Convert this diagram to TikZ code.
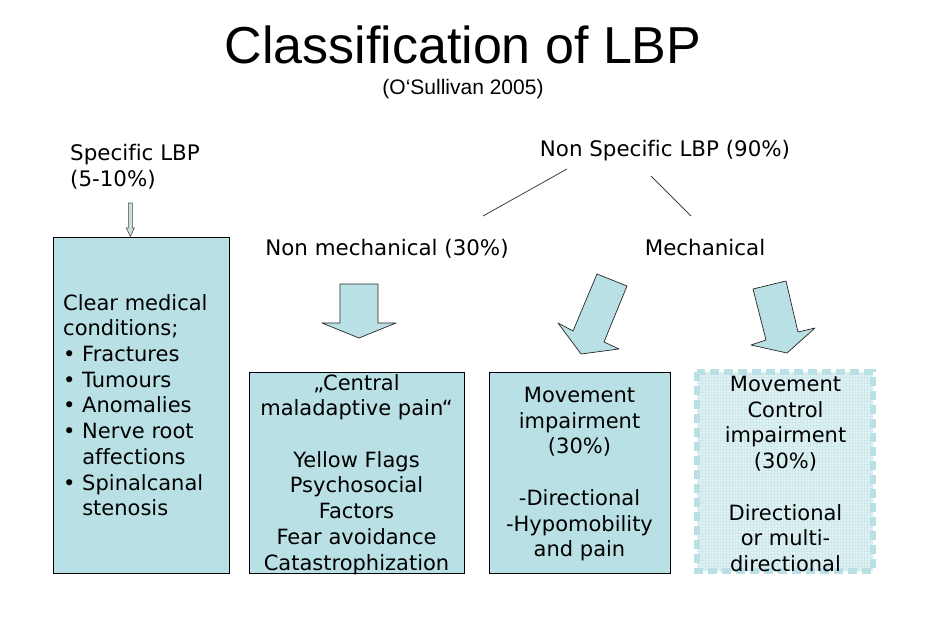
\documentclass[tikz,border=0pt]{standalone}
\usepackage{fontspec}
\setmainfont{DejaVu Sans}[Ligatures={NoCommon}]
\newfontfamily\titlefont{Liberation Sans}[Ligatures={NoCommon}]
\usetikzlibrary{patterns}
\definecolor{lbpblue}{RGB}{185,224,228}
\definecolor{lbplight}{RGB}{226,242,243}
\definecolor{lbpgrey}{RGB}{205,222,224}
\begin{document}
\begin{tikzpicture}[x=1pt, y=-1pt,
    txt/.style={font=\fontsize{21}{25.7}\selectfont, inner sep=0pt},
    head/.style={font=\fontsize{21.4}{25.7}\selectfont, inner sep=0pt},
    box/.style={draw=black, line width=0.9pt, fill=lbpblue},
    blockarrow/.style={draw=black!85, line width=0.7pt, fill=lbpblue, line join=round}]
    \useasboundingbox (0,0) rectangle (952,617);

    % Titel
    \node[font=\titlefont\fontsize{52}{56}\selectfont, inner sep=0pt, anchor=base] (title) at (463,64) {Classification of LBP};
    \node[font=\titlefont\fontsize{21}{24}\selectfont, inner sep=0pt, anchor=base] (source) at (463,95) {(O‘Sullivan 2005)};

    % Specific LBP
    \node[head, anchor=north west, align=left] (specific) at (70,144) {Specific LBP\\(5-10\%)};
    \draw[draw=black!70, fill=lbpgrey, line width=0.6pt]
        (128.3,203) -- (132.3,203) -- (132.3,228) -- (134.3,228) -- (130.3,236.5)
        -- (126.3,228) -- (128.3,228) -- cycle;
    \draw[box] (53,237) rectangle (229,573);
    \node[txt, anchor=north west, align=left] (clear) at (63,294)
        {Clear medical\\conditions;\\\textbullet{} Fractures\\\textbullet{} Tumours\\\textbullet{} Anomalies\\\textbullet{} Nerve root\\\phantom{\textbullet{} }affections\\\textbullet{} Spinalcanal\\\phantom{\textbullet{} }stenosis};

    % Non specific LBP
    \node[head, anchor=north] (nonspecific) at (665,140) {Non Specific LBP (90\%)};
    \node[head, anchor=north] (nonmech) at (387,239) {Non mechanical (30\%)};
    \node[head, anchor=north] (mech) at (705,239) {Mechanical};
    \coordinate (ns1) at (567,169);
    \coordinate (nm1) at (483,216);
    \coordinate (ns2) at (651,176);
    \coordinate (me1) at (691,216);
    \draw[black!75, line width=0.8pt] (ns1) -- (nm1);
    \draw[black!75, line width=0.8pt] (ns2) -- (me1);

    % Pfeile
    \draw[blockarrow] (340,284) -- (378,284) -- (378,323) -- (396,323) -- (359,338)
        -- (322,323) -- (340,323) -- cycle;
    \draw[blockarrow] (597,274) -- (627,286) -- (604,342) -- (619,349) -- (581,354)
        -- (558,323) -- (573,331) -- cycle;
    \draw[blockarrow] (753,289) -- (786,281) -- (798,332) -- (815,328) -- (787,353)
        -- (751,345) -- (766,340) -- cycle;

    % Kasten
    \draw[box] (249,372) rectangle (464,573);
    \node[txt, anchor=north, align=center] (central) at (356.5,374)
        {„Central\\maladaptive pain“\\[25.7pt]Yellow Flags\\Psychosocial\\Factors\\Fear avoidance\\Catastrophization};

    \draw[box] (489,372) rectangle (670,573);
    \node[txt, anchor=north, align=center] (movement) at (579.5,387)
        {Movement\\impairment\\(30\%)\\[25.7pt]-Directional\\-Hypomobility\\and pain};

    \fill[lbplight] (697,372) rectangle (873,571);
    \fill[pattern=grid, pattern color=lbpblue!70] (697,372) rectangle (873,571);
    \draw[lbpblue, line width=6pt, dash pattern=on 9pt off 5pt] (697,372) rectangle (873,571);
    \node[txt, anchor=north, align=center] (control) at (785.5,376)
        {Movement\\Control\\impairment\\(30\%)\\[25.7pt]Directional\\or multi-\\directional};
\end{tikzpicture}
\end{document}
